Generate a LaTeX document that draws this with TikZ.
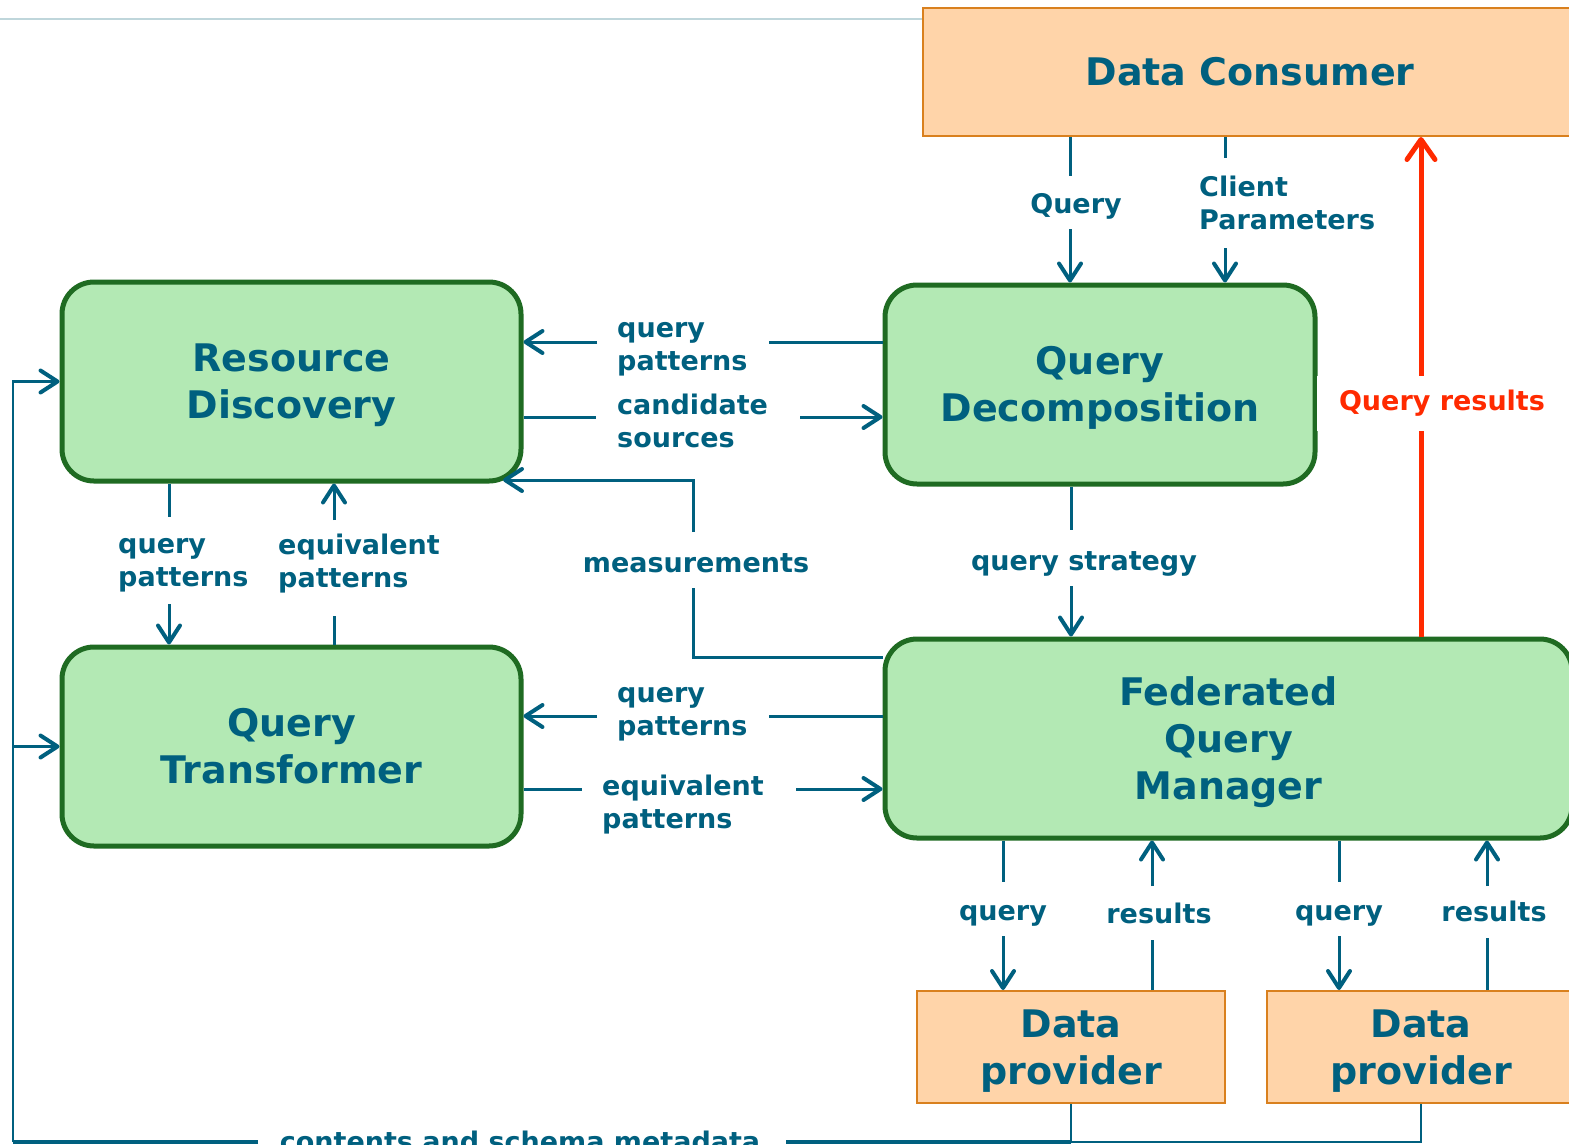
\documentclass[tikz,border=0pt]{standalone}
\usepackage{fontspec}
\setmainfont{DejaVu Sans}
\usetikzlibrary{arrows.meta,calc}

\definecolor{inkc}{HTML}{00607F}
\definecolor{gfill}{HTML}{B3E9B4}
\definecolor{gline}{HTML}{1F6B22}
\definecolor{ofill}{HTML}{FFD4A9}
\definecolor{oline}{HTML}{D9801E}
\definecolor{redc}{HTML}{FF2A00}
\definecolor{rulec}{HTML}{BFD6DB}

% fixed struts so that box captions are centred on their capitals
\newcommand\BxTop{\rule{0pt}{37.7pt}}
\newcommand\BxBot{\rule[-10pt]{0pt}{10pt}}

\tikzset{
  gbox/.style={draw=gline, fill=gfill, line width=5pt, rounded corners=32pt,
    minimum height=199pt, inner sep=0pt, align=center, text=inkc,
    font=\fontsize{38}{47}\selectfont\bfseries},
  obox/.style={draw=oline, fill=ofill, line width=2pt, inner sep=0pt,
    align=center, text=inkc, font=\fontsize{38}{47}\selectfont\bfseries},
  lbl/.style={text=inkc, inner sep=0pt, align=left,
    font=\fontsize{27}{33}\selectfont\bfseries},
  conn/.style={draw=inkc, line width=3pt},
  tip/.style={-{Straight Barb[length=17pt,width=22pt,line width=4pt,round]}},
  redtip/.style={-{Straight Barb[length=20pt,width=28pt,line width=5pt,round]}},
}

\begin{document}
\begin{tikzpicture}[x=1pt,y=-1pt]
  \useasboundingbox (0,0) rectangle (1569,1144);
  \clip (0,0) rectangle (1569,1144);
  \fill[white] (0,0) rectangle (1569,1144);

  % components
  \node[obox, minimum width=654pt, minimum height=128pt] (dc) at (1250,72) {\BxTop Data Consumer\BxBot};
  \node[gbox, minimum width=459pt] (rd) at (291.5,381.5) {\BxTop Resource\\Discovery\BxBot};
  \node[gbox, minimum width=430pt] (qd) at (1100,384.5) {\BxTop Query\\Decomposition\BxBot};
  \node[gbox, minimum width=459pt] (qt) at (291.5,746.5) {\BxTop Query\\Transformer\BxBot};
  \node[gbox, minimum width=687pt] (fqm) at (1228.5,738.5) {\BxTop Federated\\Query\\Manager\BxBot};
  \node[obox, minimum width=308pt, minimum height=112pt] (dp1) at (1071,1047) {\BxTop Data\\provider\BxBot};
  \node[obox, minimum width=308pt, minimum height=112pt] (dp2) at (1421,1047) {\BxTop Data\\provider\BxBot};

  % thin rule along the top
  \coordinate (tl) at (0,19);
  \draw[rulec, line width=1.5pt] (tl) -- (tl -| dc.west);

  % Data Consumer -> Query Decomposition
  \coordinate (qa) at (1070,176); \coordinate (qb) at (1070,229);
  \draw[conn] (dc.south -| qa) -- (qa);
  \draw[conn,tip] (qb) -- (qd.north -| qb);
  \node[lbl, anchor=base] (lq) at (1076,213) {Query};

  \coordinate (pc1) at (1225,158); \coordinate (pc2) at (1225,248);
  \draw[conn] (dc.south -| pc1) -- (pc1);
  \draw[conn,tip] (pc2) -- (qd.north -| pc2);
  \node[lbl, anchor=north west] (lcp) at (1199,172.9) {\strut Client\\Parameters};

  % Query Decomposition <-> Resource Discovery
  \coordinate (pa) at (769,342); \coordinate (pb) at (597,342);
  \draw[conn] (qd.west |- pa) -- (pa);
  \draw[conn,tip] (pb) -- (rd.east |- pb);
  \node[lbl, anchor=north west] (lqp1) at (617,313.9) {\strut query\\patterns};

  \coordinate (ca) at (596,417); \coordinate (cb) at (800,417);
  \draw[conn] (rd.east |- ca) -- (ca);
  \draw[conn,tip] (cb) -- (qd.west |- cb);
  \node[lbl, anchor=north west] (lcs) at (617,390.9) {\strut candidate\\sources};

  % measurements
  \coordinate (m1) at (693,588); \coordinate (m2) at (693,532); \coordinate (mtip) at (503,480);
  \draw[conn] ($(fqm.north west)+(0,20.5)$) -| (m1);
  \draw[conn,tip] (m2) |- (mtip);
  \node[lbl, anchor=base] (lm) at (696,572) {measurements};

  % query strategy
  \coordinate (sa) at (1071,530); \coordinate (sb) at (1071,586);
  \draw[conn] (qd.south -| sa) -- (sa);
  \draw[conn,tip] (sb) -- (fqm.north -| sb);
  \node[lbl, anchor=base] (lqs) at (1084,570) {query strategy};

  % Resource Discovery <-> Query Transformer
  \coordinate (va) at (169,517); \coordinate (vb) at (169,604);
  \draw[conn] (rd.south -| va) -- (va);
  \draw[conn,tip] (vb) -- (qt.north -| vb);
  \node[lbl, anchor=north west] (lqp2) at (118,529.9) {\strut query\\patterns};

  \coordinate (ea) at (334,616); \coordinate (eb) at (334,520);
  \draw[conn] (qt.north -| ea) -- (ea);
  \draw[conn,tip] (eb) -- (rd.south -| eb);
  \node[lbl, anchor=north west] (lep1) at (278,530.9) {\strut equivalent\\patterns};

  % Federated Query Manager <-> Query Transformer
  \coordinate (fa) at (769,716); \coordinate (fb) at (597,716);
  \draw[conn] (fqm.west |- fa) -- (fa);
  \draw[conn,tip] (fb) -- (qt.east |- fb);
  \node[lbl, anchor=north west] (lqp3) at (617,678.9) {\strut query\\patterns};

  \coordinate (ga) at (582,789); \coordinate (gb) at (796,789);
  \draw[conn] (qt.east |- ga) -- (ga);
  \draw[conn,tip] (gb) -- (fqm.west |- gb);
  \node[lbl, anchor=north west] (lep2) at (602,771.9) {\strut equivalent\\patterns};

  % Federated Query Manager <-> Data providers
  \coordinate (d1a) at (1003,882); \coordinate (d1b) at (1003,936);
  \draw[conn] (fqm.south -| d1a) -- (d1a);
  \draw[conn,tip] (d1b) -- (dp1.north -| d1b);
  \node[lbl, anchor=base] (lq1) at (1003,920) {query};

  \coordinate (r1a) at (1152,940); \coordinate (r1b) at (1152,886);
  \draw[conn] (dp1.north -| r1a) -- (r1a);
  \draw[conn,tip] (r1b) -- (fqm.south -| r1b);
  \node[lbl, anchor=base] (lr1) at (1159,923) {results};

  \coordinate (d2a) at (1339,882); \coordinate (d2b) at (1339,936);
  \draw[conn] (fqm.south -| d2a) -- (d2a);
  \draw[conn,tip] (d2b) -- (dp2.north -| d2b);
  \node[lbl, anchor=base] (lq2) at (1339,920) {query};

  \coordinate (r2a) at (1487,938); \coordinate (r2b) at (1487,886);
  \draw[conn] (dp2.north -| r2a) -- (r2a);
  \draw[conn,tip] (r2b) -- (fqm.south -| r2b);
  \node[lbl, anchor=base] (lr2) at (1494,921) {results};

  % contents and schema metadata, fed back to the left-hand components
  \coordinate (cm1) at (258,1142); \coordinate (cm2) at (786,1142); \coordinate (corner) at (13,1142);
  \draw[inkc, line width=2pt] (dp1.south) -- (dp1.south |- cm2);
  \draw[inkc, line width=1.5pt] (dp2.south) -- (dp2.south |- cm2) -- (dp1.south |- cm2);
  \draw[inkc, line width=4pt] (dp1.south |- cm2) -- (cm2);
  \draw[inkc, line width=4pt] (cm1) -- (corner);
  \draw[inkc, line width=2.5pt, tip] (corner) -- (corner |- rd.west) -- (rd.west);
  \draw[conn, tip] (corner |- qt.west) -- (qt.west);
  \node[lbl, anchor=base] (lcsm) at (520,1151) {contents and schema metadata};

  % query results back to the consumer
  \coordinate (rx) at (1421,400);
  \draw[redc, line width=5pt, redtip] (fqm.north -| rx) -- (dc.south -| rx);
  \node[fill=white, text=redc, inner sep=0pt, minimum width=250pt, minimum height=55pt,
        font=\fontsize{27}{33}\selectfont\bfseries] (lqr) at (1442,403) {Query results};
\end{tikzpicture}
\end{document}
